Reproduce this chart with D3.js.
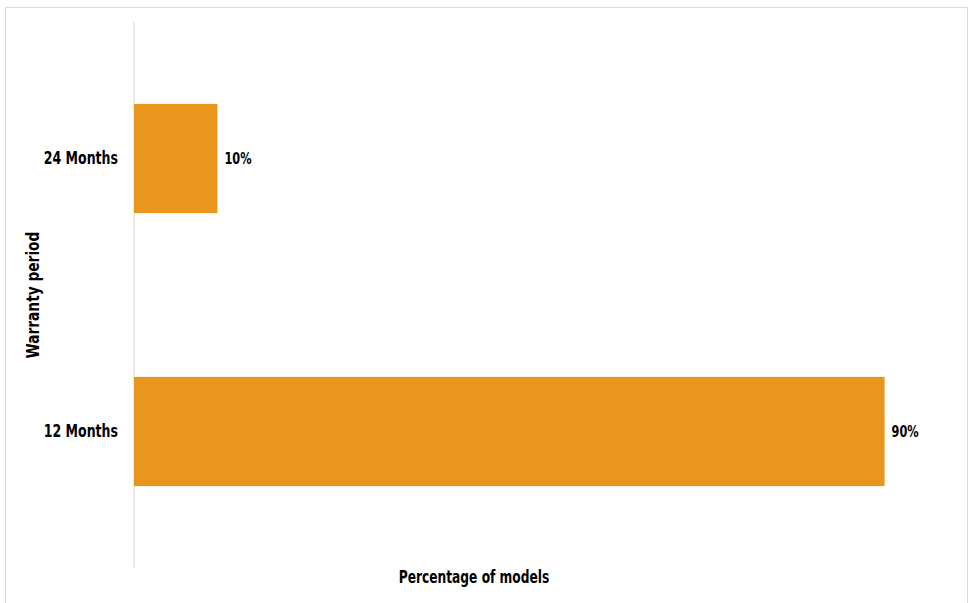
<!doctype html>
<html>
<head>
<meta charset="UTF-8">
<script src="https://d3js.org/d3.v7.min.js"></script>
<style>
  body { margin: 0; background: #fff; }
  text { font-family: "Liberation Sans Narrow", "DejaVu Sans Condensed", sans-serif; font-weight: bold; fill: #000; }
</style>
</head>
<body>
<svg id="chart" width="971" height="603"></svg>
<script>
// data
var categories = ["24 Months", "12 Months"];
var values = [10, 90];
var xTitle = "Percentage of models";
var yTitle = "Warranty period";

var svg = d3.select("#chart");

// outer frame
svg.append("rect")
  .attr("x", 5.5).attr("y", 7.5)
  .attr("width", 962).attr("height", 600)
  .attr("fill", "none")
  .attr("stroke", "#dcdcdc");

var x = d3.scaleLinear().domain([0, 100]).range([134, 968]);
var y = d3.scaleBand().domain(categories).range([22, 568])
  .paddingInner(0.6).paddingOuter(0.3);

// y axis line
svg.append("line")
  .attr("x1", x(0)).attr("x2", x(0))
  .attr("y1", 22).attr("y2", 568)
  .attr("stroke", "#e3e3e3").attr("stroke-width", 1.5);

svg.selectAll(".bar")
  .data(values)
  .enter().append("rect")
  .attr("class", "bar")
  .attr("x", x(0))
  .attr("y", function(d, i){ return y(categories[i]); })
  .attr("width", function(d){ return x(d) - x(0); })
  .attr("height", y.bandwidth())
  .attr("fill", "#e8961e");

// value labels (font is wider than the original condensed face, so squeeze it)
svg.selectAll(".val")
  .data(values)
  .enter().append("text")
  .attr("class", "val")
  .attr("transform", function(d, i){
    return "translate(" + (x(d) + 7) + "," + (y(categories[i]) + y.bandwidth() / 2) + ") scale(0.84,1)";
  })
  .attr("dy", "0.35em")
  .attr("font-size", 15)
  .text(function(d){ return d + "%"; });

// category labels
svg.selectAll(".cat")
  .data(categories)
  .enter().append("text")
  .attr("class", "cat")
  .attr("transform", function(d){
    return "translate(" + (x(0) - 16) + "," + (y(d) + y.bandwidth() / 2) + ") scale(0.82,1)";
  })
  .attr("dy", "0.35em")
  .attr("text-anchor", "end")
  .attr("font-size", 17)
  .text(function(d){ return d; });

// axis titles
svg.append("text")
  .attr("transform", "translate(474,583) scale(0.8,1)")
  .attr("text-anchor", "middle")
  .attr("font-size", 17)
  .text(xTitle);

svg.append("text")
  .attr("transform", "translate(39,295) rotate(-90) scale(0.9,1)")
  .attr("text-anchor", "middle")
  .attr("font-size", 17)
  .text(yTitle);
</script>
</body>
</html>
